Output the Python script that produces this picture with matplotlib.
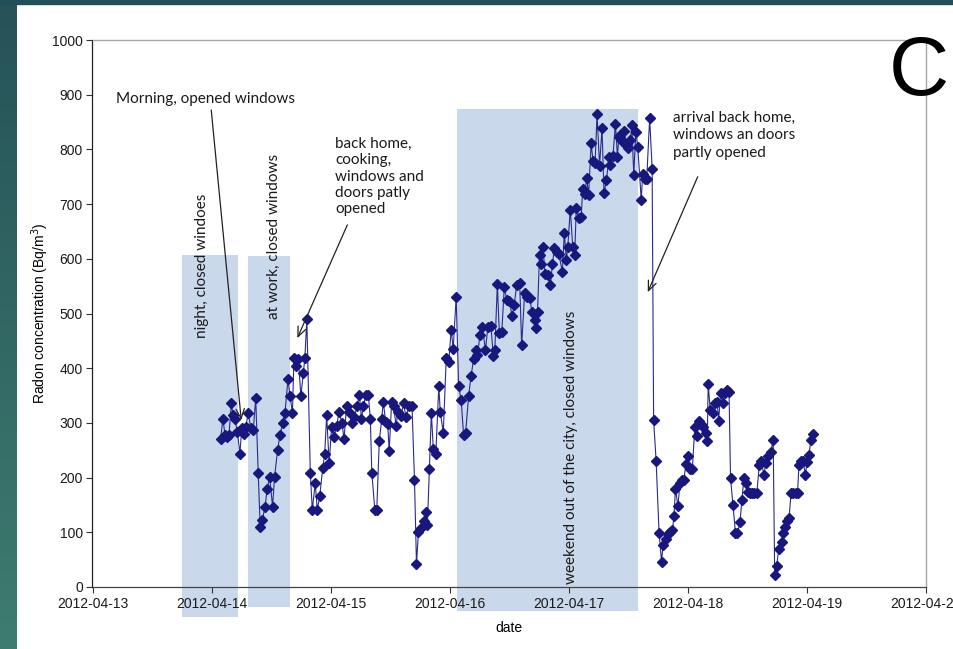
import matplotlib
matplotlib.use("Agg")
import matplotlib.pyplot as plt
import matplotlib.dates as mdates
import numpy as np
from datetime import datetime, timedelta
from matplotlib.patches import Rectangle

# Radon monitor readings: hours after 2012-04-14 00:00 and concentration (Bq/m3)
start = datetime(2012, 4, 14)
hours = [
    1.8, 2.3, 2.7, 3.2, 3.5, 4.0, 4.3, 4.7, 5.2, 5.7, 6.1, 6.5, 6.9, 7.4, 7.9, 8.4,
    8.9, 9.4, 9.8, 10.2, 10.8, 11.2, 11.7, 12.3, 12.7, 13.3, 13.8, 14.3, 14.8, 15.4,
    15.8, 16.3, 16.6, 17.1, 17.5, 18.0, 18.5, 18.8, 19.2, 19.9, 20.3, 20.9, 21.3,
    21.8, 22.4, 22.8, 23.2, 23.7, 24.2, 24.7, 25.2, 25.7, 26.3, 26.7, 27.2, 27.7,
    28.3, 28.8, 29.3, 29.8, 30.2, 30.6, 31.1, 31.6, 32.0, 32.3, 32.9, 33.3, 33.8,
    34.3, 34.6, 35.1, 35.5, 35.8, 36.3, 36.7, 37.2, 37.5, 38.2, 38.7, 39.2, 39.7,
    40.4, 40.9, 41.3, 41.7, 42.2, 42.9, 43.2, 43.5, 43.9, 44.3, 44.7, 45.2, 45.8,
    46.1, 46.7, 47.3, 47.8, 48.3, 48.7, 49.3, 49.8, 50.3, 50.8, 51.2, 51.8, 52.3,
    52.8, 53.2, 53.6, 54.1, 54.6, 55.2, 55.7, 56.3, 56.8, 57.1, 57.6, 58.0, 58.5,
    59.0, 59.5, 60.0, 60.6, 61.0, 61.5, 62.1, 62.5, 63.1, 63.5, 64.1, 64.6, 65.1,
    65.4, 65.7, 66.1, 66.4, 66.8, 67.2, 67.8, 68.3, 68.7, 69.1, 69.6, 70.0, 70.7,
    71.1, 71.5, 71.8, 72.3, 72.8, 73.2, 73.5, 74.0, 74.5, 74.8, 75.2, 75.6, 76.0,
    76.5, 76.9, 77.3, 77.7, 78.2, 78.7, 79.1, 79.6, 80.1, 80.4, 80.9, 81.4, 81.8,
    82.1, 82.4, 82.8, 83.2, 83.6, 83.9, 84.4, 84.7, 85.1, 85.5, 85.9, 86.6, 86.9,
    87.3, 87.7, 88.3, 88.8, 89.1, 89.6, 90.2, 90.7, 91.0, 91.5, 91.9, 92.3, 92.9,
    93.2, 93.5, 94.0, 94.4, 94.9, 95.2, 95.6, 96.0, 96.4, 96.9, 97.4, 97.8, 98.2,
    98.6, 99.1, 99.6, 99.9, 100.1, 100.5, 101.0, 101.4, 101.9, 102.2, 102.6, 103.0,
    103.4, 103.8, 104.3, 104.6, 105.1, 105.6, 106.0, 106.5, 106.9, 107.3, 107.8,
    108.1, 108.5, 108.9, 109.4, 109.9, 110.4, 110.8, 111.3, 111.7, 112.2, 112.7,
    113.2, 113.5, 113.9, 114.3, 114.9, 115.2, 115.6, 116.0, 116.4, 116.8, 117.2,
    117.7, 118.1, 118.4, 118.8, 119.2, 119.7, 120.0, 120.4, 120.8, 121.2,
]
radon = [
    270, 308, 278, 275, 278, 337, 314, 307, 284, 244, 290, 280, 293, 319, 290, 287,
    345, 209, 110, 122, 147, 179, 201, 147, 201, 250, 278, 299, 319, 380,
    349, 319, 418, 404, 416, 349, 392, 418, 490, 209, 141, 190, 141,
    166, 217, 243, 314, 226, 293, 275, 294, 320, 299, 270, 330, 320,
    299, 310, 331, 351, 308, 330, 351, 351, 307, 209, 141, 141, 266,
    307, 339, 302, 298, 249, 339, 330, 294, 320, 313, 336, 310, 330,
    331, 196, 42, 101, 107, 121, 138, 113, 215, 318, 252, 243, 367,
    320, 282, 418, 412, 470, 435, 530, 367, 342, 278, 281, 349, 385,
    416, 434, 424, 461, 476, 433, 476, 477, 422, 434, 554, 465, 467,
    548, 525, 522, 495, 516, 552, 556, 442, 537, 531, 528, 503, 488,
    473, 503, 607, 590, 622, 573, 570, 552, 590, 619, 613, 609, 576,
    648, 598, 622, 690, 622, 607, 692, 674, 677, 727, 718, 747, 717,
    811, 778, 775, 865, 770, 839, 720, 744, 787, 772, 788, 847, 787,
    822, 826, 816, 834, 808, 802, 817, 845, 753, 832, 805, 708, 755,
    745, 745, 857, 765, 305, 231, 99, 46, 77, 87, 96, 101, 104,
    129, 179, 148, 190, 196, 196, 225, 239, 215, 215, 292, 276, 304,
    298, 293, 281, 266, 371, 324, 319, 337, 339, 304, 355, 337,
    355, 361, 357, 199, 150, 99, 99, 119, 159, 199, 191,
    174, 172, 172, 172, 172, 223, 231, 205, 226, 239, 246,
    269, 22, 38, 69, 83, 98, 109, 121, 126, 172, 172,
    172, 172, 223, 231, 231, 205, 229, 242, 269, 279,
]

# Shaded periods (start, end) and their heights in Bq/m3 (top, bottom)
period_start = ["2012-04-13 18:04", "2012-04-14 07:23", "2012-04-16 01:28"]
period_end = ["2012-04-14 05:22", "2012-04-14 15:52", "2012-04-17 14:00"]
period_top = [607, 605, 874]
period_bottom = [-55, -37, -44]

day_ticks = ["2012-04-13", "2012-04-14", "2012-04-15", "2012-04-16",
             "2012-04-17", "2012-04-18", "2012-04-19", "2012-04-20"]

times = [start + timedelta(hours=h) for h in hours]
tnum = mdates.date2num(times)

W, H = 954, 649
fig = plt.figure(figsize=(W / 100, H / 100), dpi=100)
fig.patch.set_facecolor("white")

# teal frame strips
side = fig.add_axes([0, 0, 17 / W, 1])
grad = np.linspace(0, 1, 256)[:, None]
top_c = np.array([38, 82, 88]) / 255
bot_c = np.array([62, 124, 112]) / 255
img = top_c[None, None, :] * (1 - grad[:, :, None]) + bot_c[None, None, :] * grad[:, :, None]
side.imshow(img, aspect="auto", extent=[0, 1, 0, 1])
side.set_axis_off()
fig.patches.append(Rectangle((0, 1 - 4 / H), 1, 4 / H, transform=fig.transFigure,
                             color="#21505a", zorder=5))

ax = fig.add_axes([92.5 / W, 1 - 587 / H, (926 - 92.5) / W, (587 - 40) / H])

tick_family = ["Liberation Sans", "DejaVu Sans"]
note_family = ["Lato", "DejaVu Sans"]

for s, e, t, b in zip(period_start, period_end, period_top, period_bottom):
    x0 = mdates.date2num(datetime.strptime(s, "%Y-%m-%d %H:%M"))
    x1 = mdates.date2num(datetime.strptime(e, "%Y-%m-%d %H:%M"))
    ax.add_patch(Rectangle((x0, b), x1 - x0, t - b, facecolor="#c9d8ea",
                           edgecolor="none", zorder=1, clip_on=False))

ax.plot(tnum, radon, color="#2a2a8e", lw=0.8, marker="D", ms=4.8,
        mfc="#17177d", mec="#17177d", zorder=3)

xt = [mdates.date2num(datetime.strptime(d, "%Y-%m-%d")) for d in day_ticks]
ax.set_xlim(xt[0], xt[-1])
ax.set_ylim(0, 1000)
ax.set_xticks(xt)
ax.set_xticklabels(day_ticks)
ax.set_yticks(range(0, 1001, 100))

for lab in ax.get_xticklabels() + ax.get_yticklabels():
    lab.set_family(tick_family)
    lab.set_fontsize(10)
    lab.set_color("#1a1a1a")
ax.tick_params(axis="both", direction="out", length=4, width=0.8, color="#333333", pad=3)

for side_name in ["top", "right"]:
    ax.spines[side_name].set_color("#a6a6a6")
    ax.spines[side_name].set_linewidth(1.0)
ax.spines["left"].set_color("#222222")
ax.spines["bottom"].set_color("#444444")
ax.spines["left"].set_linewidth(0.9)
ax.spines["bottom"].set_linewidth(0.9)

ax.set_ylabel("Radon concentration (Bq/m$^3$)", family=tick_family, fontsize=10)
ax.yaxis.set_label_coords(-0.050, 0.5)
ax.set_xlabel("date", family=tick_family, fontsize=10)
ax.xaxis.set_label_coords(0.5, -0.062)


def d(s):
    return mdates.date2num(datetime.strptime(s, "%Y-%m-%d %H:%M"))


# vertical period labels
note_size = 11
ax.text(d("2012-04-13 22:09"), 587, "night, closed windoes", rotation=90,
        ha="center", va="center", family=note_family, fontsize=note_size, color="#1a1a1a")
ax.text(d("2012-04-14 12:39"), 640, "at work, closed windows", rotation=90,
        ha="center", va="center", family=note_family, fontsize=note_size, color="#1a1a1a")
ax.text(d("2012-04-17 00:23"), 256, "weekend out of the city, closed windows", rotation=90,
        ha="center", va="center", family=note_family, fontsize=note_size, color="#1a1a1a")

# event notes with arrows
arrow = dict(arrowstyle="->, head_length=0.7, head_width=0.3", color="#222222",
             lw=0.9, shrinkA=0, shrinkB=0)
ax.text(d("2012-04-13 04:45"), 892, "Morning, opened windows", ha="left", va="center",
        family=note_family, fontsize=note_size, color="#1a1a1a")
ax.annotate("", xy=(d("2012-04-14 05:59"), 305), xytext=(d("2012-04-13 23:56"), 872),
            arrowprops=arrow)

ax.text(d("2012-04-15 00:58"), 823, "back home,\ncooking,\nwindows and\ndoors patly\nopened",
        ha="left", va="top", family=note_family, fontsize=note_size, color="#1a1a1a",
        linespacing=1.22)
ax.annotate("", xy=(d("2012-04-14 17:17"), 455), xytext=(d("2012-04-15 03:22"), 662),
            arrowprops=arrow)

ax.text(d("2012-04-17 20:57"), 870, "arrival back home,\nwindows an doors\npartly opened",
        ha="left", va="top", family=note_family, fontsize=note_size, color="#1a1a1a",
        linespacing=1.3)
ax.annotate("", xy=(d("2012-04-17 15:55"), 539), xytext=(d("2012-04-18 01:59"), 750),
            arrowprops=arrow)

fig.text(919 / W, 1 - 73 / H, "C", fontsize=60, ha="center", va="center",
         family=tick_family, color="black")

fig.savefig("out.png", dpi=100)
